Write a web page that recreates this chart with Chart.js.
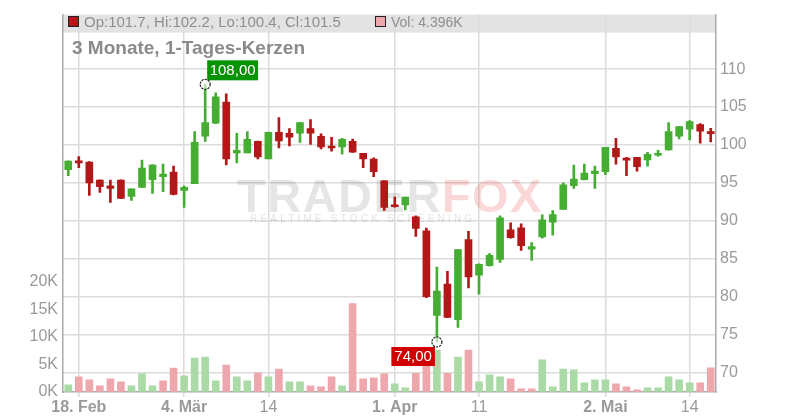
<!DOCTYPE html>
<html><head><meta charset="utf-8">
<script src="https://cdn.jsdelivr.net/npm/chart.js@4.4.1/dist/chart.umd.min.js"></script>
<style>html,body{margin:0;padding:0;background:#fff}canvas{display:block}</style>
</head><body>
<canvas id="c" width="800" height="420"></canvas>
<script>
const dates = ['2019-02-15','2019-02-18','2019-02-19','2019-02-20','2019-02-21','2019-02-22','2019-02-25','2019-02-26','2019-02-27','2019-02-28',
'2019-03-01','2019-03-04','2019-03-05','2019-03-06','2019-03-07','2019-03-08','2019-03-11','2019-03-12','2019-03-13','2019-03-14',
'2019-03-15','2019-03-18','2019-03-19','2019-03-20','2019-03-21','2019-03-22','2019-03-25','2019-03-26','2019-03-27','2019-03-28',
'2019-03-29','2019-04-01','2019-04-02','2019-04-03','2019-04-04','2019-04-05','2019-04-08','2019-04-09','2019-04-10','2019-04-11',
'2019-04-12','2019-04-15','2019-04-16','2019-04-17','2019-04-18','2019-04-23','2019-04-24','2019-04-25','2019-04-26','2019-04-29',
'2019-04-30','2019-05-02','2019-05-03','2019-05-06','2019-05-07','2019-05-08','2019-05-09','2019-05-10','2019-05-13','2019-05-14',
'2019-05-15','2019-05-16'];
const open  = [96.73,97.86,97.73,95.38,94.6,95.38,93.2,94.38,95.42,95.81,
96.42,93.99,94.9,101.17,102.87,105.65,98.95,98.95,100.47,98.17,
101.65,101.52,101.56,102.17,101.13,99.82,99.73,100.47,98.9,98.12,
95.25,91.9,92.08,90.51,88.68,77.49,81.63,76.93,87.51,82.8,
84.07,84.89,88.81,89.07,86.24,87.85,89.8,91.5,94.64,95.42,
96.21,96.47,99.56,98.12,98.38,98.03,98.64,99.34,101.17,102.08,
102.69,101.7];
const high  = [97.9,98.47,97.8,95.4,95.38,95.4,94.2,97.99,97.4,97.47,
97.21,94.6,101.78,108.0,106.87,106.74,101.52,101.78,100.5,101.7,
103.6,102.17,103.0,103.35,101.47,101.0,100.86,100.78,98.9,98.3,
95.3,93.12,93.12,90.64,89.03,83.89,83.33,86.2,88.59,84.3,
85.68,90.64,89.73,89.6,87.11,90.77,91.33,94.99,97.34,97.47,
97.21,99.7,100.86,98.38,98.38,99.04,99.3,102.95,102.45,103.22,
102.82,102.2];
const low   = [95.94,96.99,93.33,93.72,92.42,92.9,92.68,94.38,93.59,93.85,
93.4,91.77,94.9,100.47,102.8,97.38,97.64,98.95,98.17,98.17,
99.6,99.86,100.34,100.08,99.47,99.17,98.77,99.0,96.99,95.81,
91.37,91.8,91.42,87.94,79.84,74.0,77.2,75.93,81.15,80.32,
84.0,84.5,87.7,86.07,84.76,87.7,88.1,91.5,94.25,95.4,
94.25,96.08,97.47,95.94,96.55,97.21,98.51,99.3,100.78,100.65,
100.25,100.4];
const close = [97.86,97.64,94.99,94.51,94.25,92.94,94.2,96.95,97.34,96.16,
93.46,94.42,100.34,102.95,106.35,98.17,99.3,100.73,98.43,101.65,
100.52,101.04,102.95,101.56,99.73,99.6,100.73,99.04,98.17,96.47,
91.77,91.85,93.12,88.99,79.97,80.71,77.23,86.2,82.59,84.24,
85.42,90.38,87.77,86.72,86.59,90.12,90.81,94.73,95.51,96.29,
96.55,99.69,98.43,98.0,97.12,98.77,98.9,101.78,102.43,103.08,
101.82,101.5];
const volume = [1.31,2.74,2.2,1.13,2.38,1.84,1.13,3.28,1.13,2.02,
4.35,2.92,6.15,6.33,2.02,4.89,2.74,2.02,3.46,2.74,
4.17,1.84,1.84,1.13,0.95,2.74,1.13,16.0,2.38,2.56,
3.28,1.49,0.77,3.4,6.5,7.6,3.4,6.33,7.6,1.84,
3.1,2.74,2.38,0.59,0.59,5.8,0.95,4.17,4.0,1.67,
2.2,2.2,1.49,0.95,0.41,0.77,0.77,2.74,2.2,1.67,
1.67,4.396];
const xTickDates = ['2019-02-18','2019-03-04','2019-03-14','2019-04-01','2019-04-11','2019-05-02','2019-05-14'];
const xTickLabels = ['18. Feb','4. Mär','14','1. Apr','11','2. Mai','14'];
const priceTicks = [70,75,80,85,90,95,100,105,110];
const volTicks = [0,5,10,15,20];
const titleText = '3 Monate, 1-Tages-Kerzen';

const FONT = '"Liberation Sans", Arial, sans-serif';
const GREEN = '#46ad33', RED = '#b31818';
const VGREEN = '#aadba6', VRED = '#efa7ae';
const candleCol = dates.map((d,i)=> close[i] >= open[i] ? GREEN : RED);
const volCol = dates.map((d,i)=> (i===0 ? close[i]>=open[i] : close[i]>=close[i-1]) ? VGREEN : VRED);
const xTickIdx = xTickDates.map(d => dates.indexOf(d));

Chart.defaults.font.family = FONT;

function fmtDE(v){ return v.toFixed(2).replace('.', ','); }

const overlay = {
  id: 'overlay',
  beforeDraw(chart){
    const {ctx, chartArea:a} = chart;
    ctx.save();
    ctx.fillStyle = '#e3e3e3';
    ctx.fillRect(a.left, a.top, a.right - a.left, 18);
    ctx.restore();
  },
  beforeDatasetsDraw(chart){
    const {ctx} = chart;
    ctx.save();
    ctx.font = 'bold 47px ' + FONT;
    ctx.textBaseline = 'alphabetic';
    ctx.letterSpacing = '1.5px';
    ctx.fillStyle = 'rgba(0,0,0,0.10)';
    ctx.fillText('TRADER', 237, 212);
    const w = ctx.measureText('TRADER').width;
    ctx.fillStyle = 'rgba(235,60,60,0.2)';
    ctx.fillText('FOX', 237 + w, 212);
    ctx.font = '10px ' + FONT;
    ctx.letterSpacing = '3.2px';
    ctx.fillStyle = 'rgba(0,0,0,0.12)';
    ctx.fillText('REALTIME STOCK SCREENING', 250, 222);
    ctx.restore();
  },
  afterDatasetsDraw(chart){
    const {ctx} = chart;
    const xs = chart.scales.x, ys = chart.scales.y;
    const hiIdx = high.indexOf(Math.max(...high));
    const loIdx = low.indexOf(Math.min(...low));
    ctx.save();
    // high marker
    let cx = xs.getPixelForValue(hiIdx), cy = ys.getPixelForValue(high[hiIdx]);
    ctx.font = '15px ' + FONT;
    ctx.textBaseline = 'middle';
    let t = fmtDE(high[hiIdx]);
    let tw = ctx.measureText(t).width + 5;
    ctx.fillStyle = '#069406';
    ctx.fillRect(cx + 2, cy - 24, tw, 20);
    ctx.fillStyle = '#fff';
    ctx.fillText(t, cx + 4.5, cy - 13.5);
    ctx.beginPath(); ctx.arc(cx, cy, 5, 0, Math.PI*2);
    ctx.fillStyle = 'rgba(255,255,255,0.6)'; ctx.fill();
    ctx.setLineDash([2.2,1]); ctx.strokeStyle = '#222'; ctx.lineWidth = 1.2; ctx.stroke();
    ctx.setLineDash([]);
    // low marker
    cx = xs.getPixelForValue(loIdx); cy = ys.getPixelForValue(low[loIdx]);
    t = fmtDE(low[loIdx]);
    tw = ctx.measureText(t).width + 6;
    ctx.fillStyle = '#d00000';
    ctx.fillRect(cx - 2 - tw, cy + 5, tw, 19);
    ctx.fillStyle = '#fff';
    ctx.fillText(t, cx - tw + 1, cy + 15);
    ctx.beginPath(); ctx.arc(cx, cy, 5, 0, Math.PI*2);
    ctx.fillStyle = 'rgba(255,255,255,0.6)'; ctx.fill();
    ctx.setLineDash([2.2,1]); ctx.strokeStyle = '#222'; ctx.lineWidth = 1.2; ctx.stroke();
    ctx.restore();
  },
  afterDraw(chart){
    const {ctx, chartArea:a} = chart;
    const n = dates.length - 1;
    ctx.save();
    ctx.textBaseline = 'alphabetic';
    // legend swatches
    ctx.fillStyle = candleCol[n];
    ctx.fillRect(a.left + 5.5, 16.5, 10, 10);
    ctx.strokeStyle = '#222'; ctx.lineWidth = 1;
    ctx.strokeRect(a.left + 5.5, 16.5, 10, 10);
    ctx.font = '15px ' + FONT;
    ctx.fillStyle = '#8e8e8e';
    ctx.fillText(`Op:${open[n]}, Hi:${high[n]}, Lo:${low[n]}, Cl:${close[n]}`, a.left + 21, 26.5);
    ctx.fillStyle = volCol[n];
    ctx.fillRect(375.5, 16.5, 10, 10);
    ctx.strokeRect(375.5, 16.5, 10, 10);
    ctx.fillStyle = '#8e8e8e';
    ctx.font = '14px ' + FONT;
    ctx.fillText(`Vol: ${volume[n]}K`, 391, 26.5);
    // title
    ctx.font = 'bold 19px ' + FONT;
    ctx.fillStyle = '#8a8a8a';
    ctx.fillText(titleText, 72, 54);
    ctx.restore();
  }
};

new Chart(document.getElementById('c'), {
  type: 'bar',
  data: {
    labels: dates,
    datasets: [
      { label: 'body', data: dates.map((d,i)=>[open[i], close[i]]), yAxisID: 'y',
        backgroundColor: candleCol, barThickness: 7, minBarLength: 2, grouped: false, order: 1 },
      { label: 'wick', data: dates.map((d,i)=>[low[i], high[i]]), yAxisID: 'y',
        backgroundColor: candleCol, barThickness: 2, grouped: false, order: 2 },
      { label: 'vol', data: volume, yAxisID: 'yv',
        backgroundColor: volCol, barThickness: 7, grouped: false, order: 3 }
    ]
  },
  options: {
    responsive: false,
    animation: false,
    events: [],
    layout: { padding: { top: 11, left: 0, right: 0, bottom: 0 } },
    plugins: { legend: { display: false }, tooltip: { enabled: false } },
    scales: {
      x: {
        type: 'category', offset: true,
        grid: { offset: false, color: '#dcdcdc', lineWidth: 1.5, tickLength: 5, drawTicks: true },
        border: { color: '#aaaaaa', width: 1.5 },
        afterBuildTicks: s => { s.ticks = xTickIdx.map(v => ({ value: v })); },
        afterFit: s => { s.height = 28; },
        ticks: {
          autoSkip: false, maxRotation: 0, padding: 1, color: '#9a9a9a',
          font: c => ({ family: FONT, size: 16, weight: /\./.test(xTickLabels[c.index] || '') ? 'bold' : 'normal' }),
          callback: (v, i) => xTickLabels[i]
        }
      },
      y: {
        position: 'right', min: 67.4, max: 117.2,
        grid: { color: '#dcdcdc', lineWidth: 1.5, drawTicks: false },
        border: { color: '#aaaaaa', width: 1.5 },
        afterBuildTicks: s => { s.ticks = priceTicks.map(v => ({ value: v })); },
        afterFit: s => { s.width = 84; },
        ticks: { padding: 4, color: '#9a9a9a', font: { size: 16 }, callback: v => String(v) }
      },
      yv: {
        position: 'left', min: 0, max: 68.3,
        grid: { drawOnChartArea: false, drawTicks: false },
        border: { color: '#aaaaaa', width: 1.5 },
        afterBuildTicks: s => { s.ticks = volTicks.map(v => ({ value: v })); },
        afterFit: s => { s.width = 63; },
        ticks: { padding: 5, color: '#9a9a9a', font: { size: 16 }, callback: v => v + 'K' }
      }
    }
  },
  plugins: [overlay]
});
</script>
</body></html>
